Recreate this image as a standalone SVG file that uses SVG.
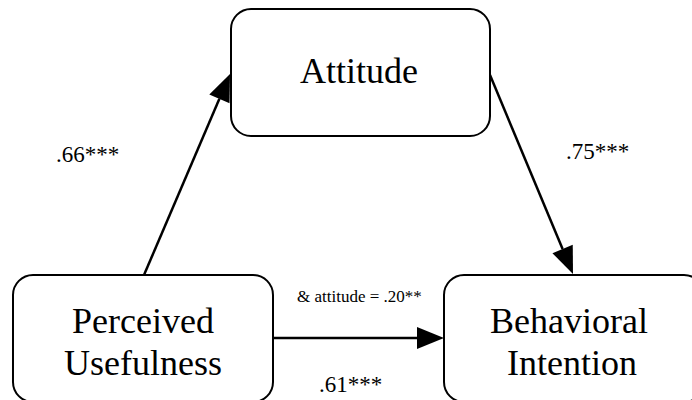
<svg xmlns="http://www.w3.org/2000/svg" width="692" height="400" viewBox="0 0 692 400">
<style>
.box{fill:#fff;stroke:#000;stroke-width:2}
text{font-family:'Liberation Serif','DejaVu Serif','Times New Roman',serif;fill:#000}
.name{font-size:36px;text-anchor:middle}
.lbl{font-size:23px}
.small{font-size:17px}
.edge{stroke:#000;stroke-width:2.5;fill:none;marker-end:url(#ah)}
</style>
<defs>
<marker id="ah" markerUnits="userSpaceOnUse" markerWidth="28" markerHeight="24" refX="0" refY="11" orient="auto" overflow="visible">
<path d="M0,0 L27,11 L0,22 Z" fill="#000"/>
</marker>
</defs>
<rect width="692" height="400" fill="#fff"/>
<g id="connectors">
<line class="edge" x1="144" y1="275" x2="219.4" y2="98.8"/>
<line class="edge" x1="490" y1="75" x2="562.6" y2="249"/>
<line class="edge" x1="273" y1="338" x2="417" y2="338"/>
</g>
<g id="attitude">
<rect class="box" x="231" y="9" width="259" height="127" rx="20" ry="20"/>
<text class="name" x="359" y="83">Attitude</text>
</g>
<g id="perceived-usefulness">
<rect class="box" x="13" y="275" width="260" height="127" rx="20" ry="20"/>
<text class="name" x="143" y="333">Perceived</text>
<text class="name" x="143" y="375">Usefulness</text>
</g>
<g id="behavioral-intention">
<rect class="box" x="444" y="275" width="260" height="127" rx="20" ry="20"/>
<text class="name" x="569" y="333">Behavioral</text>
<text class="name" x="572" y="375">Intention</text>
</g>
<g id="labels">
<text class="lbl" x="56" y="162">.66***</text>
<text class="lbl" x="566" y="159">.75***</text>
<text class="lbl" x="319" y="392">.61***</text>
<text class="small" x="297" y="302">&amp; attitude = .20**</text>
</g>
</svg>
